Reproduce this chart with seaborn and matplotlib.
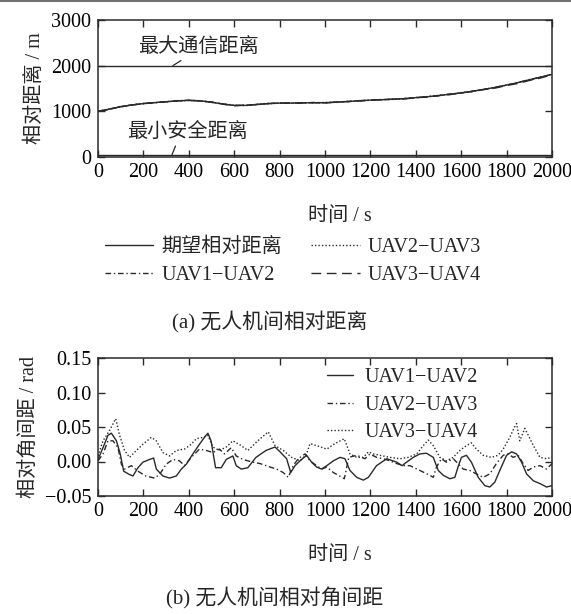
import matplotlib
matplotlib.use("Agg")
import matplotlib.pyplot as plt
from matplotlib.lines import Line2D
import seaborn as sns

# ---------------- data ----------------
# (a) relative distance between neighbouring UAVs, sampled every 50 s
t_dist = [0, 50, 100, 150, 200, 250, 300, 350, 400, 450, 500, 550, 600, 650, 700,
          750, 800, 850, 900, 950, 1000, 1050, 1100, 1150, 1200, 1250, 1300, 1350,
          1400, 1450, 1500, 1550, 1600, 1650, 1700, 1750, 1800, 1850, 1900, 1950, 2000]
dist_desired = [1000, 1050, 1100, 1140, 1170, 1190, 1210, 1230, 1240, 1230, 1200, 1160,
                1130, 1130, 1150, 1170, 1180, 1180, 1185, 1190, 1190, 1200, 1215, 1230,
                1245, 1255, 1265, 1280, 1300, 1320, 1345, 1375, 1405, 1440, 1480, 1525,
                1575, 1630, 1690, 1750, 1810]
dist_12 = [1000, 1040, 1110, 1135, 1175, 1185, 1215, 1225, 1245, 1225, 1205, 1155, 1125,
           1135, 1145, 1175, 1175, 1185, 1180, 1195, 1185, 1205, 1210, 1235, 1240, 1260,
           1260, 1285, 1295, 1325, 1340, 1380, 1400, 1445, 1475, 1530, 1570, 1635, 1685,
           1755, 1805]
dist_23 = [1005, 1055, 1095, 1145, 1165, 1195, 1205, 1235, 1235, 1235, 1195, 1165, 1135,
           1125, 1155, 1165, 1185, 1175, 1190, 1185, 1195, 1195, 1220, 1225, 1250, 1250,
           1270, 1275, 1305, 1315, 1350, 1370, 1410, 1435, 1485, 1520, 1580, 1625, 1695,
           1745, 1815]
dist_34 = [995, 1045, 1105, 1140, 1170, 1190, 1210, 1230, 1240, 1230, 1200, 1160, 1125,
           1135, 1150, 1170, 1180, 1180, 1185, 1190, 1180, 1205, 1215, 1230, 1245, 1255,
           1265, 1270, 1300, 1310, 1345, 1365, 1405, 1430, 1480, 1510, 1565, 1610, 1675,
           1730, 1800]
MAX_COMM = 2000   # maximum communication distance, m
MIN_SAFE = 50     # minimum safe distance, m

# (b) relative angular spacing, rad
t_ang12 = [0, 22, 44, 59, 81, 98, 113, 139, 154, 176, 198, 227, 245, 257, 286, 315, 345,
           367, 389, 418, 447, 469, 484, 498, 518, 543, 565, 594, 609, 631, 660, 696, 740,
           780, 802, 831, 849, 868, 890, 919, 941, 963, 985, 1008, 1037, 1066, 1088, 1110,
           1140, 1169, 1191, 1227, 1272, 1316, 1340, 1359, 1389, 1418, 1447, 1477, 1499,
           1521, 1550, 1572, 1586, 1601, 1623, 1645, 1675, 1704, 1726, 1748, 1770, 1800,
           1822, 1844, 1866, 1888, 1918, 1947, 1976, 2000]
ang12 = [0.003, 0.020, 0.038, 0.041, 0.030, 0.011, -0.014, -0.019, -0.021, -0.009,
         -0.001, 0.003, 0.005, -0.011, -0.021, -0.024, -0.021, -0.011, -0.004, 0.011,
         0.025, 0.035, 0.041, 0.030, -0.009, -0.009, 0.003, 0.008, -0.006, -0.011,
         -0.009, 0.006, 0.016, 0.021, 0.014, 0.004, -0.016, -0.006, 0.001, 0.009,
         -0.001, -0.008, -0.011, -0.006, 0.001, 0.006, 0.004, -0.013, -0.023, -0.027,
         -0.023, -0.006, 0.004, -0.001, -0.006, -0.001, 0.006, 0.011, 0.012, 0.006,
         -0.013, -0.020, -0.025, -0.023, -0.008, 0.006, 0.009, -0.001, -0.023, -0.035,
         -0.037, -0.030, -0.013, 0.009, 0.014, 0.011, -0.001, -0.018, -0.028, -0.032,
         -0.037, -0.035]

t_ang23 = [0, 22, 44, 66, 88, 103, 117, 147, 176, 210, 249, 271, 300, 330, 359, 381, 411,
           447, 477, 506, 535, 557, 587, 609, 638, 682, 714, 758, 787, 816, 838, 860, 882,
           912, 934, 963, 985, 1008, 1037, 1059, 1085, 1105, 1140, 1176, 1198, 1227, 1257,
           1286, 1316, 1345, 1374, 1418, 1462, 1477, 1491, 1513, 1535, 1565, 1586, 1609,
           1638, 1667, 1697, 1726, 1755, 1785, 1807, 1829, 1851, 1873, 1895, 1918, 1947,
           1976, 2000]
ang23 = [0.001, 0.011, 0.030, 0.030, 0.020, -0.004, -0.011, -0.006, -0.014, -0.021,
         -0.024, -0.019, -0.004, 0.003, 0.001, -0.006, 0.006, 0.018, 0.016, 0.013, 0.018,
         0.011, 0.020, 0.008, 0.003, -0.001, -0.003, -0.008, -0.011, -0.016, -0.023,
         -0.006, 0.004, 0.011, 0.001, -0.006, -0.011, -0.008, -0.016, -0.020, -0.025,
         0.006, 0.009, 0.004, 0.011, 0.006, 0.004, 0.001, -0.003, -0.006, -0.006, -0.013,
         -0.020, -0.023, -0.008, 0.004, -0.001, 0.004, -0.003, -0.011, -0.013, -0.018,
         -0.023, -0.018, -0.003, 0.009, 0.011, 0.006, 0.009, -0.003, -0.013, -0.008,
         -0.006, -0.011, -0.003]

t_ang34 = [0, 22, 51, 78, 95, 117, 139, 169, 198, 235, 257, 286, 315, 345, 381, 411, 433,
           462, 484, 506, 535, 565, 594, 631, 660, 704, 750, 780, 816, 853, 890, 919, 934,
           963, 1008, 1044, 1085, 1110, 1140, 1169, 1191, 1213, 1242, 1286, 1330, 1367,
           1404, 1433, 1455, 1477, 1506, 1535, 1565, 1594, 1623, 1645, 1667, 1697, 1733,
           1763, 1785, 1814, 1835, 1844, 1858, 1880, 1900, 1918, 1947, 1976, 2000]
ang34 = [0.008, 0.030, 0.045, 0.062, 0.038, 0.016, 0.006, 0.016, 0.025, 0.035, 0.030,
         0.013, 0.008, 0.016, 0.018, 0.025, 0.033, 0.035, 0.038, 0.021, 0.016, 0.021,
         0.030, 0.023, 0.016, 0.030, 0.043, 0.023, 0.016, 0.006, 0.001, 0.011, 0.026,
         0.023, 0.018, 0.026, 0.033, 0.011, 0.006, 0.006, 0.014, 0.011, 0.009, 0.006,
         0.004, 0.006, 0.011, 0.023, 0.031, 0.023, 0.006, 0.001, 0.006, 0.016, 0.023,
         0.027, 0.018, 0.009, 0.006, 0.009, 0.018, 0.035, 0.050, 0.055, 0.030, 0.048,
         0.035, 0.023, 0.006, 0.004, 0.006]

x_ticks = list(range(0, 2001, 200))
dist_ticks = [0, 1000, 2000, 3000]
ang_ticks = [-0.05, 0.00, 0.05, 0.10, 0.15]

# ---------------- style ----------------
sns.set_theme(style="ticks")
plt.rcParams["font.family"] = ["Liberation Serif", "Noto Sans CJK SC"]
plt.rcParams["axes.unicode_minus"] = True
FS = 14.5
INK = "#2a2a2a"

W, H = 571, 614
fig = plt.figure(figsize=(W / 100, H / 100), dpi=100)
fig.patch.set_facecolor("white")

def px_axes(left, top, right, bottom):
    return fig.add_axes([left / W, 1 - bottom / H, (right - left) / W, (bottom - top) / H])

ax1 = px_axes(98, 20, 552, 157)
ax2 = px_axes(98, 358, 552, 496)

def style_axes(ax):
    ax.set_facecolor("white")
    for s in ax.spines.values():
        s.set_visible(True)
        s.set_color(INK)
        s.set_linewidth(1.1)
    ax.tick_params(direction="in", length=5, width=1.0, color=INK, labelsize=FS,
                   labelcolor="black", top=True, right=True, pad=5)
    ax.tick_params(axis="x", pad=4)
    ax.set_xlim(0, 2000)
    ax.set_xticks(x_ticks)
    ax.grid(False)

LW = 1.0
DASHDOT = (4, 2, 1, 2)
DASHED = (7, 4)
DOTTED = (1, 1.5)

# ---------------- (a) relative distance ----------------
style_axes(ax1)
sns.lineplot(x=t_dist, y=dist_desired, ax=ax1, color=INK, lw=LW, label="期望相对距离")
sns.lineplot(x=t_dist, y=dist_12, ax=ax1, color=INK, lw=LW, dashes=DASHDOT, label="UAV1−UAV2")
sns.lineplot(x=t_dist, y=dist_23, ax=ax1, color=INK, lw=LW, dashes=DOTTED, label="UAV2−UAV3")
sns.lineplot(x=t_dist, y=dist_34, ax=ax1, color=INK, lw=LW, dashes=DASHED, label="UAV3−UAV4")
ax1.axhline(MAX_COMM, color=INK, lw=1.0)
ax1.axhline(MIN_SAFE, color=INK, lw=1.0)
ax1.set_ylim(0, 3000)
ax1.set_yticks(dist_ticks)
ax1.set_ylabel("相对距离 / m", fontsize=FS, labelpad=4)
ax1.set_xlabel("时间 / s", fontsize=FS)
ax1.xaxis.set_label_coords(0.533, -0.365)

ax1.annotate("最大通信距离", xy=(330, MAX_COMM), xytext=(441, 2409),
             ha="center", va="center", fontsize=FS,
             arrowprops=dict(arrowstyle="-", color=INK, lw=0.9, relpos=(0.41, 0.0),
                             shrinkA=1, shrinkB=0))
ax1.annotate("最小安全距离", xy=(326, MIN_SAFE), xytext=(392, 548),
             ha="center", va="center", fontsize=FS,
             arrowprops=dict(arrowstyle="-", color=INK, lw=0.9, relpos=(0.42, 0.0),
                             shrinkA=1, shrinkB=0))

handles, labels = ax1.get_legend_handles_labels()
if ax1.get_legend() is not None:
    ax1.get_legend().remove()
fig.legend(handles, labels, ncol=2, loc="upper left", bbox_to_anchor=(105 / W, 1 - 238 / H),
           frameon=False, fontsize=FS, handlelength=2.4, handletextpad=0.4,
           columnspacing=1.45, labelspacing=0.4, borderpad=0, borderaxespad=0)

fig.text(270 / W, 1 - 322 / H, "(a) 无人机间相对距离", ha="center", va="center", fontsize=FS + 0.5)

# ---------------- (b) relative angular spacing ----------------
style_axes(ax2)
sns.lineplot(x=t_ang12, y=ang12, ax=ax2, color=INK, lw=LW, label="UAV1−UAV2")
sns.lineplot(x=t_ang23, y=ang23, ax=ax2, color=INK, lw=LW, dashes=DASHDOT, label="UAV2−UAV3")
sns.lineplot(x=t_ang34, y=ang34, ax=ax2, color=INK, lw=LW, dashes=DOTTED, label="UAV3−UAV4")
ax2.set_ylim(-0.05, 0.15)
ax2.set_yticks(ang_ticks)
ax2.set_yticklabels([f"{v:.2f}".replace("-", "−") for v in ang_ticks])
ax2.set_ylabel("相对角间距 / rad", fontsize=FS, labelpad=4)
ax2.set_xlabel("时间 / s", fontsize=FS)
ax2.xaxis.set_label_coords(0.533, -0.36)
h2, l2 = ax2.get_legend_handles_labels()
if ax2.get_legend() is not None:
    ax2.get_legend().remove()
ax2.legend(h2, l2, loc="upper left", bbox_to_anchor=((327 - 98) / 454, 1 - 10 / 138),
           frameon=False, fontsize=FS, handlelength=1.3, handletextpad=0.55,
           labelspacing=0.42, borderpad=0, borderaxespad=0)

fig.text(275 / W, 1 - 598 / H, "(b) 无人机间相对角间距", ha="center", va="center", fontsize=FS + 0.5)

# thin rule along the top edge of the figure
fig.add_artist(Line2D([0, 1], [1 - 0.8 / H, 1 - 0.8 / H], color="#555555", lw=1.2))

fig.savefig("out.png", dpi=100, facecolor="white")
